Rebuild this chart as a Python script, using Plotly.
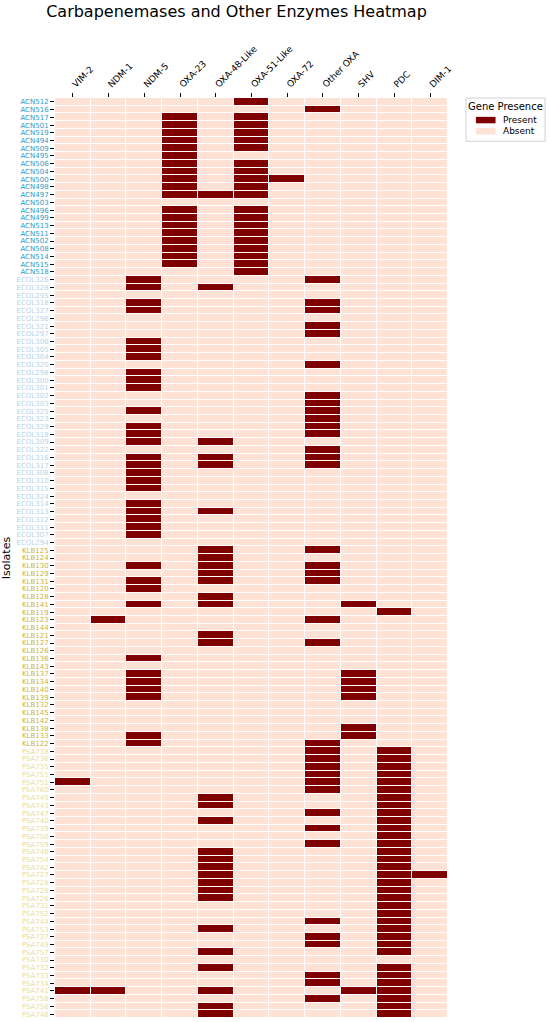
import plotly.graph_objects as go

genes = ["VIM-2", "NDM-1", "NDM-5", "OXA-23", "OXA-48-Like", "OXA-51-Like",
         "OXA-72", "Other OXA", "SHV", "PDC", "DIM-1"]

# presence per isolate, one char per gene in the order above (1 = present)
acn_isolates = ["ACN512", "ACN516", "ACN517", "ACN501", "ACN519", "ACN494", "ACN509", "ACN495",
                "ACN506", "ACN504", "ACN500", "ACN498", "ACN497", "ACN503", "ACN496", "ACN499",
                "ACN513", "ACN511", "ACN502", "ACN508", "ACN514", "ACN515", "ACN518"]
acn_presence = ["00000100000", "00000001000", "00010100000", "00010100000", "00010100000",
                "00010100000", "00010100000", "00010000000", "00010100000", "00010100000",
                "00010110000", "00010100000", "00011100000", "00000000000", "00010100000",
                "00010100000", "00010100000", "00010100000", "00010100000", "00010100000",
                "00010100000", "00010100000", "00000100000"]

ecol_isolates = ["ECOL326", "ECOL328", "ECOL295", "ECOL318", "ECOL327", "ECOL296", "ECOL321",
                 "ECOL297", "ECOL306", "ECOL305", "ECOL304", "ECOL320", "ECOL298", "ECOL300",
                 "ECOL301", "ECOL302", "ECOL303", "ECOL325", "ECOL323", "ECOL329", "ECOL319",
                 "ECOL309", "ECOL322", "ECOL316", "ECOL317", "ECOL308", "ECOL310", "ECOL315",
                 "ECOL324", "ECOL314", "ECOL313", "ECOL312", "ECOL311", "ECOL307", "ECOL294"]
ecol_presence = ["00100001000", "00101000000", "00000000000", "00100001000", "00100001000",
                 "00000000000", "00000001000", "00000001000", "00100000000", "00100000000",
                 "00100000000", "00000001000", "00100000000", "00100000000", "00100000000",
                 "00000001000", "00000001000", "00100001000", "00000001000", "00100001000",
                 "00100001000", "00101000000", "00000001000", "00101001000", "00101001000",
                 "00100000000", "00100000000", "00100000000", "00000000000", "00100000000",
                 "00101000000", "00100000000", "00100000000", "00100000000", "00000000000"]

klb_isolates = ["KLB125", "KLB124", "KLB130", "KLB129", "KLB131", "KLB120", "KLB128", "KLB141",
                "KLB119", "KLB123", "KLB144", "KLB121", "KLB127", "KLB126", "KLB136", "KLB143",
                "KLB137", "KLB134", "KLB140", "KLB139", "KLB132", "KLB145", "KLB142", "KLB138",
                "KLB133", "KLB122"]
klb_presence = ["00001001000", "00001000000", "00101001000", "00001001000", "00101001000",
                "00100000000", "00001000000", "00101000100", "00000000010", "01000001000",
                "00000000000", "00001000000", "00001001000", "00000000000", "00100000000",
                "00000000000", "00100000100", "00100000100", "00100000100", "00100000100",
                "00000000000", "00000000000", "00000000000", "00000000100", "00100000100",
                "00100001000"]

psa_isolates = ["PSA738", "PSA736", "PSA735", "PSA755", "PSA751", "PSA760", "PSA745", "PSA743",
                "PSA747", "PSA740", "PSA739", "PSA750", "PSA759", "PSA748", "PSA754", "PSA742",
                "PSA727", "PSA728", "PSA729", "PSA726", "PSA731", "PSA752", "PSA744", "PSA753",
                "PSA737", "PSA749", "PSA757", "PSA730", "PSA732", "PSA733", "PSA734", "PSA741",
                "PSA758", "PSA756", "PSA746"]
psa_presence = ["00000001010", "00000001010", "00000001010", "00000001010", "10000001010",
                "00000001010", "00001000010", "00001000010", "00000001010", "00001000010",
                "00000001010", "00000000010", "00000001010", "00001000010", "00001000010",
                "00001000010", "00001000011", "00001000010", "00001000010", "00001000010",
                "00000000010", "00000000010", "00000001010", "00001000010", "00000001010",
                "00000001010", "00001000010", "00000000000", "00001000010", "00000001010",
                "00000001010", "11001000110", "00000001010", "00001000010", "00001000010"]

group_colors = {"ACN": "#1f9bc6", "ECOL": "#b3d4ea", "KLB": "#c9b23e", "PSA": "#e8dca2"}

PRESENT = "#7f0000"
ABSENT = "#fde2d5"

groups = [("ACN", acn_isolates, acn_presence), ("ECOL", ecol_isolates, ecol_presence),
          ("KLB", klb_isolates, klb_presence), ("PSA", psa_isolates, psa_presence)]

isolates, z, ticktext = [], [], []
for key, names, rows in groups:
    for name, row in zip(names, rows):
        isolates.append(name)
        z.append([int(c) for c in row])
        ticktext.append(f"<span style='color:{group_colors[key]}'>{name}</span>")

fig = go.Figure()
fig.add_trace(go.Heatmap(
    z=z, x=genes, y=isolates,
    colorscale=[[0, ABSENT], [0.5, ABSENT], [0.5, PRESENT], [1, PRESENT]],
    zmin=0, zmax=1, showscale=False, xgap=1, ygap=1,
    hovertemplate="%{y} / %{x}: %{z}<extra></extra>",
))

# matplotlib-style legend box drawn in paper coords (plotly's own legend is too roomy)
legend_shapes = [
    dict(type="rect", xref="paper", yref="paper", x0=1.046, x1=1.247, y0=0.953, y1=1.0,
         line={"color": "#d0d0d0", "width": 1}, fillcolor="white"),
    dict(type="rect", xref="paper", yref="paper", x0=1.071, x1=1.121, y0=0.9725, y1=0.9795,
         line={"width": 0}, fillcolor=PRESENT),
    dict(type="rect", xref="paper", yref="paper", x0=1.071, x1=1.121, y0=0.9605, y1=0.9675,
         line={"width": 0}, fillcolor=ABSENT),
]
legend_notes = [
    dict(text="Gene Presence", x=1.146, y=0.991, font={"size": 10}, xanchor="center"),
    dict(text="Present", x=1.134, y=0.976, font={"size": 9}, xanchor="left"),
    dict(text="Absent", x=1.134, y=0.964, font={"size": 9}, xanchor="left"),
]
for note in legend_notes:
    fig.add_annotation(xref="paper", yref="paper", yanchor="middle", showarrow=False, **note)

fig.update_layout(
    width=550, height=1022,
    font={"family": "DejaVu Sans", "color": "black"},
    title={"text": "Carbapenemases and Other Enzymes Heatmap", "x": 0.43, "xanchor": "center",
           "y": 0.989, "yanchor": "middle", "font": {"size": 16}},
    margin={"l": 52, "r": 102, "t": 98, "b": 3},
    plot_bgcolor="white", paper_bgcolor="white",
    showlegend=False,
    shapes=legend_shapes,
)
fig.update_xaxes(side="top", tickangle=-45, ticks="outside", ticklen=4, tickcolor="black",
                 tickfont={"size": 9}, showgrid=False, zeroline=False, showline=False,
                 range=[-0.5, len(genes) - 0.5])
fig.update_yaxes(autorange="reversed", tickmode="array", tickvals=isolates, ticktext=ticktext,
                 ticks="outside", ticklen=4, tickcolor="black", tickfont={"size": 7},
                 showgrid=False, zeroline=False, showline=False,
                 title={"text": "Isolates", "font": {"size": 11}, "standoff": 6})

# drop the browser's default body margin so the figure sits at the page origin
fig.write_html("out.html", config={"displayModeBar": False},
               post_script="document.body.style.margin='0';")
